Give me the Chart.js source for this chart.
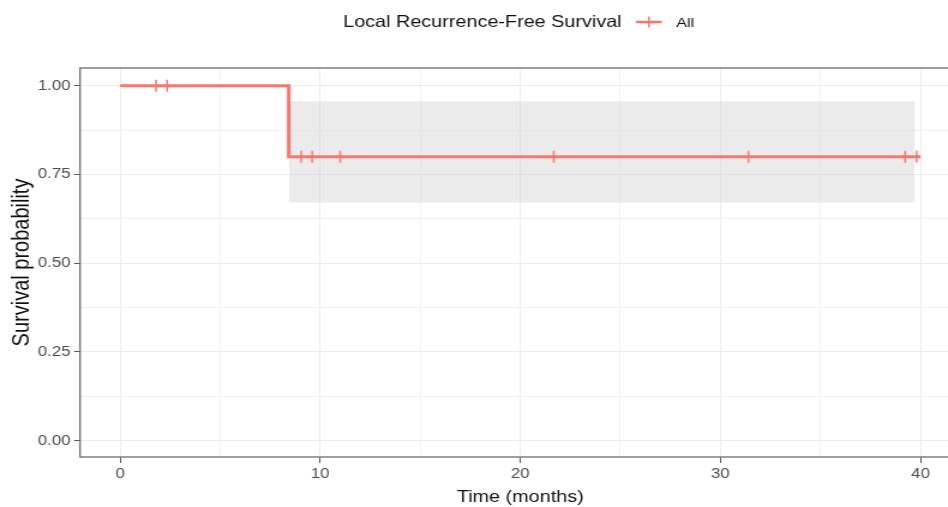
<!DOCTYPE html>
<html>
<head>
<meta charset="utf-8">
<script src="https://cdn.jsdelivr.net/npm/chart.js@4.4.1/dist/chart.umd.min.js"></script>
<style>
    html, body { margin: 0; padding: 0; background: #fff; overflow: hidden; }
    #wrap { width: 808px; height: 507px; transform: scaleX(1.2); transform-origin: 0 0; }
</style>
</head>
<body>
<div id="wrap"><canvas id="kmChart" width="808" height="507"></canvas></div>
<script>
// Kaplan-Meier estimate (time in months)
const survTimes = [0, 8.43, 40.0];
const survProb = [1.0, 0.8, 0.8];

// censored observations
const censorTimes = [1.8, 2.35, 9.05, 9.6, 11.0, 21.67, 31.4, 39.23, 39.8];
const censorProb = [1.0, 1.0, 0.8, 0.8, 0.8, 0.8, 0.8, 0.8, 0.8];

// 95% confidence band
const bandTimes = [8.43, 39.71];
const bandUpper = [0.956, 0.956];
const bandLower = [0.671, 0.671];

const xTicks = [0, 5, 10, 15, 20, 25, 30, 35, 40];
const yTicks = [0, 0.125, 0.25, 0.375, 0.5, 0.625, 0.75, 0.875, 1.0];

const legendTitle = 'Local Recurrence-Free Survival';
const legendLabel = 'All';

const RED = '#F8766D';
const FONT = "'Liberation Sans', Arial, sans-serif";

const toPoints = (xs, ys) => xs.map((x, i) => ({ x: x, y: ys[i] }));
const isMajorX = v => v % 10 === 0;
const isMajorY = v => Math.abs(v * 4 - Math.round(v * 4)) < 1e-9;

const panelBorder = {
    id: 'panelBorder',
    afterDatasetsDraw(chart) {
        const { ctx, chartArea: a } = chart;
        ctx.save();
        ctx.strokeStyle = '#7f7f7f';
        ctx.lineWidth = 1.5;
        ctx.strokeRect(a.left, a.top, a.right - a.left, a.bottom - a.top);
        ctx.restore();
    }
};

const topLegend = {
    id: 'topLegend',
    afterDraw(chart) {
        const ctx = chart.ctx;
        const y = 22;
        ctx.save();
        ctx.textBaseline = 'middle';
        ctx.fillStyle = '#111';
        ctx.font = '16.5px ' + FONT;
        ctx.fillText(legendTitle, 286, y);

        ctx.strokeStyle = RED;
        ctx.lineWidth = 2.5;
        ctx.beginPath();
        ctx.moveTo(530, y);
        ctx.lineTo(551.5, y);
        ctx.stroke();
        ctx.lineWidth = 1.5;
        ctx.beginPath();
        ctx.moveTo(540.8, y - 5.5);
        ctx.lineTo(540.8, y + 5.5);
        ctx.stroke();

        ctx.fillStyle = '#111';
        ctx.font = '13.5px ' + FONT;
        ctx.fillText(legendLabel, 563.5, y + 1);
        ctx.restore();
    }
};

const ctx = document.getElementById('kmChart');

new Chart(ctx, {
    type: 'line',
    data: {
        datasets: [
            {
                label: 'upper',
                data: toPoints(bandTimes, bandUpper),
                borderWidth: 0,
                pointRadius: 0,
                fill: false,
                order: 3
            },
            {
                label: 'lower',
                data: toPoints(bandTimes, bandLower),
                borderWidth: 0,
                pointRadius: 0,
                backgroundColor: 'rgba(205, 205, 205, 0.4)',
                fill: '-1',
                order: 3
            },
            {
                label: legendLabel,
                data: toPoints(survTimes, survProb),
                borderColor: RED,
                borderWidth: 3,
                pointRadius: 0,
                stepped: 'before',
                fill: false,
                order: 2
            },
            {
                label: 'censored',
                data: toPoints(censorTimes, censorProb),
                showLine: false,
                pointStyle: 'line',
                rotation: 90,
                pointRadius: 6,
                pointBorderWidth: 1.5,
                pointBorderColor: RED,
                borderColor: RED,
                order: 1
            }
        ]
    },
    options: {
        responsive: false,
        animation: false,
        layout: { padding: { top: 68, left: 0, right: 0, bottom: 0 } },
        plugins: {
            legend: { display: false },
            tooltip: { enabled: false }
        },
        scales: {
            x: {
                type: 'linear',
                min: -2,
                max: 42,
                afterBuildTicks: axis => { axis.ticks = xTicks.map(v => ({ value: v })); },
                afterFit: axis => { axis.height = 50; },
                border: { display: false },
                grid: {
                    color: c => isMajorX(c.tick.value) ? '#ebebeb' : '#f3f3f3',
                    tickColor: c => isMajorX(c.tick.value) ? '#555' : 'rgba(0,0,0,0)',
                    tickLength: 6,
                    lineWidth: 1
                },
                ticks: {
                    autoSkip: false,
                    maxRotation: 0,
                    padding: 3,
                    color: '#4d4d4d',
                    font: { family: FONT, size: 14 },
                    callback: v => isMajorX(v) ? String(v) : ''
                },
                title: {
                    display: true,
                    text: 'Time (months)',
                    color: '#111',
                    font: { family: FONT, size: 16.5 },
                    padding: { top: 0, bottom: 0 }
                }
            },
            y: {
                min: -0.046,
                max: 1.05,
                afterBuildTicks: axis => { axis.ticks = yTicks.map(v => ({ value: v })); },
                afterFit: axis => { axis.width = 66.7; },
                border: { display: false },
                grid: {
                    color: c => isMajorY(c.tick.value) ? '#ebebeb' : '#f3f3f3',
                    tickColor: c => isMajorY(c.tick.value) ? '#555' : 'rgba(0,0,0,0)',
                    tickLength: 5,
                    lineWidth: 1
                },
                ticks: {
                    padding: 3,
                    color: '#4d4d4d',
                    font: { family: FONT, size: 14 },
                    callback: v => isMajorY(v) ? v.toFixed(2) : ''
                },
                title: {
                    display: true,
                    text: 'Survival probability',
                    color: '#111',
                    font: { family: FONT, size: 20 },
                    padding: { top: 6, bottom: 0 }
                }
            }
        }
    },
    plugins: [panelBorder, topLegend]
});
</script>
</body>
</html>
